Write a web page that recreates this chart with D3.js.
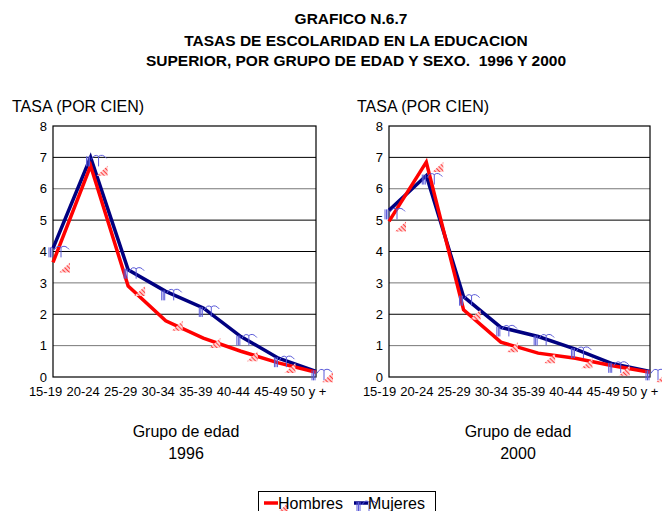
<!DOCTYPE html>
<html>
<head>
<meta charset="utf-8">
<script src="https://cdn.jsdelivr.net/npm/d3@7"></script>
<style>
  body { margin: 0; background: #fff; }
  text { font-family: "Liberation Sans", Arial, sans-serif; fill: #000; white-space: pre; }
</style>
</head>
<body>
<svg id="chart" width="662" height="511"></svg>
<script>
// age groups (x categories)
var grupos = ["15-19", "20-24", "25-29", "30-34", "35-39", "40-44", "45-49", "50 y +"];
var yTicks = [0, 1, 2, 3, 4, 5, 6, 7, 8];

// tasas (por cien)
var hombres1996 = [3.65, 6.73, 2.9, 1.79, 1.24, 0.82, 0.45, 0.15];
var mujeres1996 = [4.1, 7.0, 3.42, 2.73, 2.2, 1.29, 0.6, 0.18];
var hombres2000 = [4.96, 6.85, 2.14, 1.11, 0.76, 0.6, 0.36, 0.15];
var mujeres2000 = [5.31, 6.42, 2.56, 1.58, 1.29, 0.89, 0.42, 0.18];

var titulo = ["GRAFICO N.6.7",
              "TASAS DE ESCOLARIDAD EN LA EDUCACION",
              "SUPERIOR, POR GRUPO DE EDAD Y SEXO.  1996 Y 2000"];

var RED = "#ff0000", NAVY = "#000080", MARK_BLUE = "#5a5ad8";

var svg = d3.select("#chart");

// hatch pattern for the red markers
var defs = svg.append("defs");
var pat = defs.append("pattern")
  .attr("id", "hatch")
  .attr("patternUnits", "userSpaceOnUse")
  .attr("width", 3).attr("height", 3)
  .attr("patternTransform", "rotate(-45)");
pat.append("rect").attr("width", 3).attr("height", 3).attr("fill", "#ffd0d0");
pat.append("line").attr("x1", 0).attr("y1", 0).attr("x2", 0).attr("y2", 3)
  .attr("stroke", RED).attr("stroke-width", 1.4);

// title
svg.selectAll(".titulo")
  .data(titulo)
  .enter().append("text")
  .attr("x", function(d, i){ return i === 0 ? 351 : 356; })
  .attr("y", function(d, i){ return [24, 46, 66][i]; })
  .attr("text-anchor", "middle")
  .style("font-weight", "bold")
  .style("font-size", "15.5px")
  .text(function(d){ return d; });

function redMarker(g, x, y){
  g.append("path")
    .attr("d", "M" + (x + 6) + "," + (y + 10) + "L" + (x + 17) + "," + (y + 10) + "L" + (x + 17) + "," + y + "Z")
    .attr("fill", "url(#hatch)");
}

function blueMarker(g, x, y){
  var m = g.append("g").attr("fill", "none").attr("stroke", MARK_BLUE).attr("stroke-width", 1);
  [-4, -2.5, -1].forEach(function(dx){
    m.append("line").attr("x1", x + dx).attr("x2", x + dx).attr("y1", y - 1).attr("y2", y + 9);
  });
  m.append("path")
    .attr("d", "M" + (x + 1) + "," + (y + 2) + "Q" + (x + 4) + "," + (y - 4) + " " + (x + 8) + "," + (y - 1) +
               "Q" + (x + 12) + "," + (y - 4) + " " + (x + 16) + "," + (y + 1));
  m.append("line").attr("x1", x + 8).attr("x2", x + 8).attr("y1", y - 1).attr("y2", y + 9);
}

function panel(opts){
  var g = svg.append("g");
  var x = d3.scalePoint().domain(grupos).range([opts.left, opts.right]).padding(0);
  var y = d3.scaleLinear().domain([0, 8]).range([opts.bottom, opts.top]);

  // gridlines
  g.selectAll(".grid")
    .data(yTicks.slice(1, -1))
    .enter().append("line")
    .attr("x1", opts.left).attr("x2", opts.right)
    .attr("y1", function(d){ return y(d); })
    .attr("y2", function(d){ return y(d); })
    .attr("stroke", function(d){ return (d === 6 || d === 3 || d === 1) ? "#777" : "#000"; })
    .attr("stroke-width", 1);

  // plot frame
  g.append("rect")
    .attr("x", opts.left).attr("y", opts.top)
    .attr("width", opts.right - opts.left).attr("height", opts.bottom - opts.top)
    .attr("fill", "none").attr("stroke", "#000").attr("stroke-width", 1.2);

  // y axis labels
  var ya = g.append("g")
    .attr("transform", "translate(" + opts.left + ",0)")
    .call(d3.axisLeft(y).tickValues(yTicks).tickSize(0).tickPadding(6));
  ya.select(".domain").remove();
  ya.selectAll("text").style("font-size", "13px").attr("font-family", null);

  // x axis labels
  var xa = g.append("g")
    .attr("transform", "translate(0," + opts.bottom + ")")
    .call(d3.axisBottom(x).tickSize(0).tickPadding(10));
  xa.select(".domain").remove();
  xa.selectAll("text").style("font-size", "13px").attr("font-family", null).attr("dx", opts.labelShift);

  g.append("text")
    .attr("x", opts.yTitleX).attr("y", opts.top - 14)
    .style("font-size", "16px")
    .text("TASA (POR CIEN)");

  g.append("text")
    .attr("x", opts.xTitleX).attr("y", 437)
    .attr("text-anchor", "middle")
    .style("font-size", "16px")
    .text("Grupo de edad");
  g.append("text")
    .attr("x", opts.xTitleX).attr("y", 459)
    .attr("text-anchor", "middle")
    .style("font-size", "16px")
    .text(opts.year);

  var line = d3.line()
    .x(function(d, i){ return x(grupos[i]); })
    .y(function(d){ return y(d); });

  var series = [
    { values: opts.mujeres, color: NAVY, marker: blueMarker },
    { values: opts.hombres, color: RED, marker: redMarker }
  ];

  series.forEach(function(s){
    g.append("path")
      .datum(s.values)
      .attr("d", line)
      .attr("fill", "none")
      .attr("stroke", s.color)
      .attr("stroke-width", 3.5)
      .attr("stroke-linejoin", "miter");
  });
  series.forEach(function(s){
    s.values.forEach(function(v, i){ s.marker(g, x(grupos[i]), y(v)); });
  });
}

panel({ left: 53, right: 316, top: 126, bottom: 377, hombres: hombres1996, mujeres: mujeres1996,
        year: "1996", xTitleX: 186, yTitleX: 12, labelShift: "-8px" });
panel({ left: 389, right: 650, top: 126, bottom: 377, hombres: hombres2000, mujeres: mujeres2000,
        year: "2000", xTitleX: 518, yTitleX: 357, labelShift: "-10px" });

// legend
var leg = svg.append("g");
leg.append("rect")
  .attr("x", 258.5).attr("y", 491.5).attr("width", 177).attr("height", 30)
  .attr("fill", "#fff").attr("stroke", "#000").attr("stroke-width", 1);
var items = [
  { label: "Hombres", color: RED, x: 264, marker: redMarker },
  { label: "Mujeres", color: NAVY, x: 354, marker: blueMarker }
];
items.forEach(function(it){
  leg.append("line")
    .attr("x1", it.x).attr("x2", it.x + 14)
    .attr("y1", 503).attr("y2", 503)
    .attr("stroke", it.color).attr("stroke-width", 3.5);
  it.marker(leg, it.x + 7, 503);
  leg.append("text")
    .attr("x", it.x + 14).attr("y", 509)
    .style("font-size", "16px")
    .text(it.label);
});
</script>
</body>
</html>
